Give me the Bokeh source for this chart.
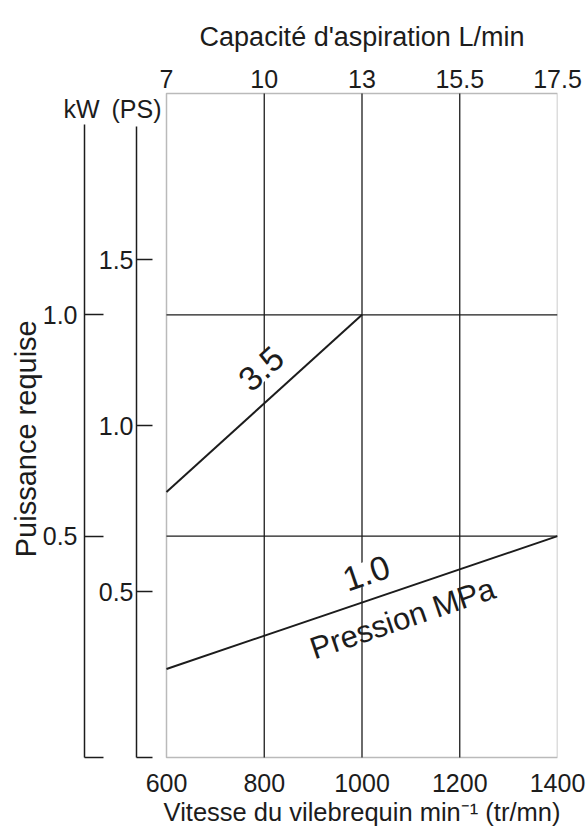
import math
from bokeh.plotting import figure
from bokeh.models import LinearAxis, Range1d, FixedTicker, Label, BoxAnnotation
from bokeh.embed import file_html
from bokeh.resources import INLINE

# ---- data ----
speed_ticks = [600, 800, 1000, 1200, 1400]          # crankshaft speed, tr/mn
flow_labels = ["7", "10", "13", "15.5", "17.5"]     # suction capacity L/min
kw_ticks = [0, 0.5, 1.0]
kw_labels = ["", "0.5", "1.0"]
ps_ticks = [0, 0.5, 1.0, 1.5]
ps_labels = ["", "0.5", "1.0", "1.5"]

speed_35 = [600, 1000]      # pressure 3.5 MPa
power_35 = [0.60, 1.00]     # kW
speed_10 = [600, 1400]      # pressure 1.0 MPa
power_10 = [0.20, 0.50]     # kW

x_title = "Vitesse du vilebrequin min\u207b\u00b9 (tr/mn)"
top_title = "Capacité d'aspiration L/min"
y_title = "Puissance requise"

FONT = "Liberation Sans"
INK = "#1c1c1c"

X0, X1 = 600, 1400
Y0, Y1 = 0.0, 1.5
PS_TOP = 2.0

# geometry (pixels)
BOX_LEFT = 166          # left edge of chart box from canvas left
BOX_W, BOX_H = 391, 664
PAD = 3                 # frame padding above/below the chart box
px_x = BOX_W / (X1 - X0)
px_y = BOX_H / (Y1 - Y0)

x_start = X0 - BOX_LEFT / px_x
y_lo, y_hi = Y0 - PAD / px_y, Y1 + PAD / px_y

p = figure(frame_width=BOX_LEFT + BOX_W, frame_height=BOX_H + 2 * PAD,
           x_range=Range1d(x_start, X1), y_range=Range1d(y_lo, y_hi),
           x_axis_type=None, y_axis_type=None,
           toolbar_location=None, output_backend="svg",
           min_border_left=0, min_border_right=30,
           min_border_top=93 - PAD, min_border_bottom=70,
           outline_line_color=None,
           background_fill_color="white", border_fill_color="white")
p.extra_y_ranges = {"ps": Range1d(y_lo * PS_TOP / Y1, y_hi * PS_TOP / Y1)}

common = dict(minor_tick_in=0, minor_tick_out=0, major_tick_out=0,
              axis_line_color=INK, axis_line_width=1.5,
              major_tick_line_color=INK, major_tick_line_width=1.4,
              major_label_text_font=FONT, major_label_text_font_size="25px",
              major_label_text_color=INK)

# power scales (kW outer, PS inner), drawn left of the chart box
kw_x = X0 - 82 / px_x
ps_x = X0 - 30 / px_x

kw_axis = LinearAxis(ticker=FixedTicker(ticks=kw_ticks),
                     major_label_overrides=dict(zip(kw_ticks, kw_labels)),
                     bounds=(0, 1.43), major_tick_in=19, major_label_standoff=7,
                     fixed_location=kw_x, **common)
ps_axis = LinearAxis(y_range_name="ps", ticker=FixedTicker(ticks=ps_ticks),
                     major_label_overrides=dict(zip(ps_ticks, ps_labels)),
                     bounds=(0, 1.9), major_tick_in=16, major_label_standoff=3,
                     fixed_location=ps_x, **common)
p.add_layout(kw_axis, "left")
p.add_layout(ps_axis, "left")

# top scale (suction capacity) and its title
top_axis = LinearAxis(ticker=FixedTicker(ticks=speed_ticks),
                      major_label_overrides=dict(zip(speed_ticks, flow_labels)),
                      major_tick_in=0, major_label_standoff=3, **common)
top_axis.axis_line_color = None
mid = (X0 + X1) / 2
top_title_axis = LinearAxis(ticker=FixedTicker(ticks=[mid]),
                            major_label_overrides={mid: top_title},
                            major_tick_in=0, major_label_standoff=15, **common)
top_title_axis.axis_line_color = None
top_title_axis.major_label_text_font_size = "27px"
p.add_layout(top_axis, "above")
p.add_layout(top_title_axis, "above")

# bottom scale (speed) and its title
bottom_axis = LinearAxis(ticker=FixedTicker(ticks=speed_ticks),
                         major_tick_in=0, major_label_standoff=13, **common)
bottom_axis.axis_line_color = None
bottom_title_axis = LinearAxis(ticker=FixedTicker(ticks=[mid]),
                               major_label_overrides={mid: x_title},
                               major_tick_in=0, major_label_standoff=3, **common)
bottom_title_axis.axis_line_color = None
bottom_title_axis.major_label_text_font_size = "25.5px"
p.add_layout(bottom_axis, "below")
p.add_layout(bottom_title_axis, "below")

# chart box and grid
p.add_layout(BoxAnnotation(left=X0, right=X1, bottom=Y0, top=Y1, fill_color=None,
                           line_color=INK, line_width=1.5, level="underlay"))
inner_x = speed_ticks[1:-1]
p.segment(x0=inner_x, y0=[Y0] * len(inner_x), x1=inner_x, y1=[Y1] * len(inner_x),
          line_color=INK, line_width=1.3)
inner_y = kw_ticks[1:]
p.segment(x0=[X0] * len(inner_y), y0=inner_y, x1=[X1] * len(inner_y), y1=inner_y,
          line_color=INK, line_width=1.3)

# curves
p.line(speed_35, power_35, line_color=INK, line_width=2)
p.line(speed_10, power_10, line_color=INK, line_width=2)

ang35 = math.atan2((power_35[1] - power_35[0]) * px_y, (speed_35[1] - speed_35[0]) * px_x)
ang10 = math.atan2((power_10[1] - power_10[0]) * px_y, (speed_10[1] - speed_10[0]) * px_x)

p.add_layout(Label(x=794, y=0.878, text="3.5", angle=ang35, text_align="center",
                   text_baseline="middle", text_font=FONT, text_font_size="34px",
                   text_color=INK, background_fill_color="white"))
p.add_layout(Label(x=1009, y=0.416, text="1.0", angle=ang10, text_align="center",
                   text_baseline="middle", text_font=FONT, text_font_size="34px",
                   text_color=INK, background_fill_color="white"))
p.add_layout(Label(x=1083, y=0.314, text="Pression MPa", angle=ang10, text_align="center",
                   text_baseline="middle", text_font=FONT, text_font_size="31px",
                   text_color=INK))

# unit captions above the two power scales, and the vertical title
unit_y = Y1 - 15 / px_y
p.add_layout(Label(x=kw_x - 3 / px_x, y=unit_y, text="kW", text_align="center",
                   text_baseline="middle", text_font=FONT, text_font_size="25px",
                   text_color=INK))
p.add_layout(Label(x=ps_x, y=unit_y, text="(PS)", text_align="center",
                   text_baseline="middle", text_font=FONT, text_font_size="25px",
                   text_color=INK))
p.add_layout(Label(x=X0 - (BOX_LEFT - 25) / px_x, y=0.72, text=y_title, angle=math.pi / 2,
                   text_align="center", text_baseline="middle", text_font=FONT,
                   text_font_size="29px", text_color=INK))

open("out.html", "w").write(file_html(p, INLINE))
